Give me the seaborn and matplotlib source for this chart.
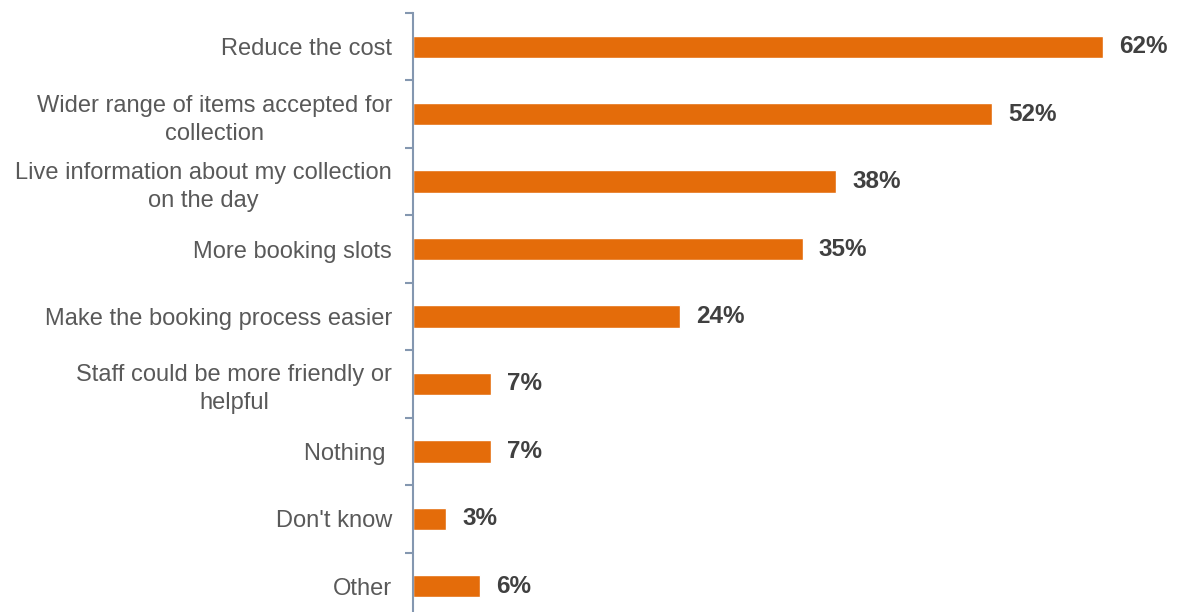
import matplotlib
matplotlib.use("Agg")
import matplotlib.pyplot as plt
import seaborn as sns
import pandas as pd
import numpy as np

sns.set_theme(style="white")
plt.rcParams["font.family"] = ["Liberation Sans", "DejaVu Sans"]

categories = [
    "Reduce the cost",
    "Wider range of items accepted for\ncollection",
    "Live information about my collection\non the day",
    "More booking slots",
    "Make the booking process easier",
    "Staff could be more friendly or\nhelpful",
    "Nothing ",
    "Don't know",
    "Other",
]
values = [62, 52, 38, 35, 24, 7, 7, 3, 6]

df = pd.DataFrame({"category": categories, "value": values})

W, H = 1179, 612
fig = plt.figure(figsize=(W / 100, H / 100), dpi=100)
ax_left = 413 / W
ax_top = 1 - 13 / H
ax_bottom = 1 - 620 / H
ax_right = (413 + 68 * 11.13) / W
ax = fig.add_axes([ax_left, ax_bottom, ax_right - ax_left, ax_top - ax_bottom])

sns.barplot(data=df, y="category", x="value", orient="h", color="#E46C0A",
            saturation=1, width=0.33, ax=ax)

ax.set_xlim(0, 68)
ax.set_ylim(len(categories) - 0.5, -0.5)
ax.set_xlabel("")
ax.set_ylabel("")
ax.set_xticks([])

for s in ["top", "right", "bottom"]:
    ax.spines[s].set_visible(False)
axis_color = "#8497B0"
ax.spines["left"].set_color(axis_color)
ax.spines["left"].set_linewidth(1.5)

# category labels at bar centres, tick marks at the band boundaries
ax.set_yticks(range(len(categories)))
ax.set_yticklabels(categories, fontsize=17, color="#595959",
                   multialignment="center", linespacing=1.35)
ax.tick_params(axis="y", which="major", left=True, length=0, pad=15)
ax.set_yticks(np.arange(-0.5, len(categories), 1), minor=True)
ax.tick_params(axis="y", which="minor", left=True, length=6, width=1.5,
               color=axis_color, direction="out")

for i, v in enumerate(values):
    ax.text(v + 1.45, i, f"{v}%", va="center", ha="left", fontsize=17.5,
            fontweight="bold", color="#404040", clip_on=False)

fig.savefig("out.png", dpi=100)
